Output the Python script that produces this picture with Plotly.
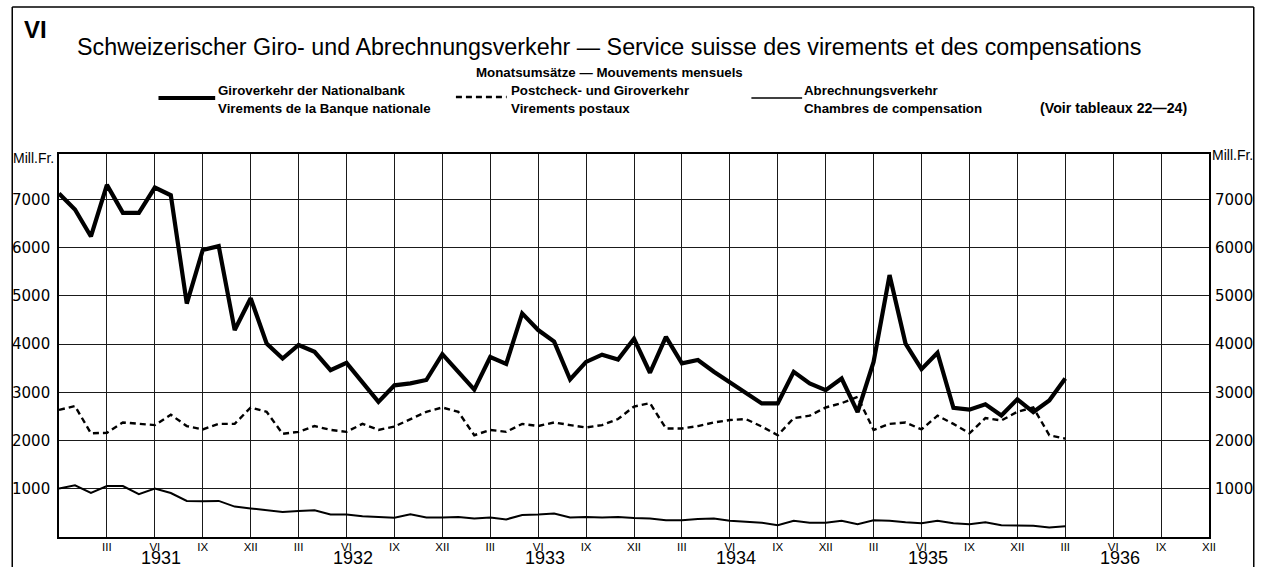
import plotly.graph_objects as go

# ---- data (months since the left edge; 0 = start, 3 = III 1931, ... 63 = III 1936) ----
months = list(range(0, 64))
giro = [7120, 6790, 6230, 7300, 6720, 6720, 7245, 7085, 4840, 5950, 6030, 4290,
        4950, 4010, 3700, 3980, 3840, 3460, 3610, 3215, 2800, 3145, 3185, 3255,
        3790, 3425, 3055, 3730, 3590, 4635, 4290, 4050, 3265, 3630, 3780, 3680,
        4110, 3405, 4150, 3600, 3670, 3425, 3215, 3000, 2770, 2770, 3425, 3185,
        3045, 3285, 2590, 3630, 5430, 4010, 3480, 3820, 2680, 2640, 2750, 2520,
        2855, 2590, 2830, 3285]
postal = [2635, 2715, 2150, 2160, 2375, 2345, 2320, 2535, 2300, 2230, 2345, 2345,
          2685, 2595, 2140, 2180, 2300, 2220, 2180, 2345, 2220, 2290, 2445, 2595,
          2685, 2595, 2110, 2220, 2180, 2345, 2300, 2375, 2320, 2270, 2320, 2445,
          2705, 2775, 2250, 2250, 2300, 2375, 2425, 2445, 2290, 2110, 2465, 2515,
          2685, 2775, 2905, 2220, 2345, 2375, 2230, 2515, 2345, 2150, 2465, 2415,
          2595, 2685, 2110, 2040]
clearing = [1005, 1072, 912, 1055, 1055, 888, 1005, 912, 748, 740, 748, 630,
            592, 555, 520, 540, 555, 468, 465, 428, 416, 400, 472, 405,
            405, 415, 385, 405, 365, 455, 465, 485, 405, 415, 405, 415,
            395, 385, 345, 345, 375, 385, 335, 315, 295, 245, 335, 295,
            295, 335, 265, 345, 335, 305, 285, 335, 285, 265, 305, 245,
            235, 235, 195, 225]

x_tick_vals = list(range(3, 73, 3))
x_tick_text = ["III", "VI", "IX", "XII"] * 6
years = ["1931", "1932", "1933", "1934", "1935", "1936"]
y_tick_vals = [1000, 2000, 3000, 4000, 5000, 6000, 7000]
y_tick_text = ["1000", "2000", "3000", "4000", "5000", "6000", "7000"]

title = "Schweizerischer Giro- und Abrechnungsverkehr — Service suisse des virements et des compensations"
subtitle = "Monatsumsätze — Mouvements mensuels"
legend_names = [("Giroverkehr der Nationalbank", "Virements de la Banque nationale"),
                ("Postcheck- und Giroverkehr", "Virements postaux"),
                ("Abrechnungsverkehr", "Chambres de compensation")]

# ---- layout geometry ----
W, H = 1265, 567
L, R, T, B = 53, 56, 154, 30
PW, PH = W - L - R, H - T - B


def px(x):
    return (x - L) / PW


def py(y):
    return (H - B - y) / PH


FONT = "Liberation Sans, Arial, sans-serif"
SMALL = dict(family=FONT, size=13.3, color="black", weight="bold")

fig = go.Figure()
fig.add_trace(go.Scatter(x=months, y=giro, mode="lines", name=legend_names[0][0],
                         line=dict(color="black", width=4.2), showlegend=False))
fig.add_trace(go.Scatter(x=months, y=postal, mode="lines", name=legend_names[1][0],
                         line=dict(color="black", width=2.4, dash="6px,4px"), showlegend=False))
fig.add_trace(go.Scatter(x=months, y=clearing, mode="lines", name=legend_names[2][0],
                         line=dict(color="black", width=2), showlegend=False))
# invisible trace to carry the right-hand axis
fig.add_trace(go.Scatter(x=months, y=clearing, mode="lines", yaxis="y2",
                         line=dict(width=0, color="rgba(0,0,0,0)"), hoverinfo="skip",
                         showlegend=False))

annotations = []
for i, yr in enumerate(years):
    annotations.append(dict(x=12 * i + 6.4, y=py(558), xref="x", yref="paper", text=yr,
                            showarrow=False, xanchor="center", yanchor="middle",
                            borderpad=0,
                            font=dict(family=FONT, size=18, color="black")))

annotations += [
    dict(x=px(16), y=py(30), text="<b>VI</b>", xanchor="left",
         font=dict(family=FONT, size=24, color="black")),
    dict(x=px(606), y=py(47), text=title, xanchor="center",
         font=dict(family=FONT, size=23.3, color="black")),
    dict(x=px(606), y=py(73), text=subtitle, xanchor="center", font=SMALL),
    dict(x=px(211), y=py(91), text=legend_names[0][0], xanchor="left", font=SMALL),
    dict(x=px(211), y=py(108), text=legend_names[0][1], xanchor="left", font=SMALL),
    dict(x=px(505), y=py(91), text=legend_names[1][0], xanchor="left", font=SMALL),
    dict(x=px(505), y=py(108), text=legend_names[1][1], xanchor="left", font=SMALL),
    dict(x=px(800), y=py(91), text=legend_names[2][0], xanchor="left", font=SMALL),
    dict(x=px(800), y=py(108), text=legend_names[2][1], xanchor="left", font=SMALL),
    dict(x=px(1037), y=py(108), text="(Voir tableaux 22—24)", xanchor="left",
         font=dict(family=FONT, size=14.2, color="black", weight="bold")),
    dict(x=px(5), y=py(158), text="Mill.Fr.", xanchor="left",
         font=dict(family=FONT, size=14, color="black")),
    dict(x=px(1210), y=py(155), text="Mill.Fr.", xanchor="left",
         font=dict(family=FONT, size=14, color="black")),
]
for a in annotations:
    a.setdefault("xref", "paper")
    a.setdefault("yref", "paper")
    a.setdefault("showarrow", False)
    a.setdefault("yanchor", "middle")

shapes = [
    # outer frame
    dict(type="line", xref="paper", yref="paper", x0=px(6), x1=px(6), y0=py(7), y1=py(580),
         line=dict(color="black", width=1.5)),
    dict(type="line", xref="paper", yref="paper", x0=px(6), x1=px(1254), y0=py(7), y1=py(7),
         line=dict(color="black", width=1.5)),
    dict(type="line", xref="paper", yref="paper", x0=px(1254), x1=px(1254), y0=py(7), y1=py(580),
         line=dict(color="black", width=1.5)),
    # legend samples
    dict(type="line", xref="paper", yref="paper", x0=px(153), x1=px(210), y0=py(98), y1=py(98),
         line=dict(color="black", width=4)),
    dict(type="line", xref="paper", yref="paper", x0=px(452), x1=px(503), y0=py(97), y1=py(97),
         line=dict(color="black", width=2.4, dash="6px,4px")),
    dict(type="line", xref="paper", yref="paper", x0=px(749), x1=px(800), y0=py(98), y1=py(98),
         line=dict(color="black", width=1.6)),
]

axis_common = dict(showline=True, linecolor="black", linewidth=1.6, mirror=True,
                   gridcolor="#1a1a1a", gridwidth=1, zeroline=False, ticks="")

fig.update_layout(
    width=W, height=H,
    margin=dict(l=L, r=R, t=T, b=B, pad=0),
    paper_bgcolor="white", plot_bgcolor="white",
    showlegend=False,
    annotations=annotations,
    shapes=shapes,
    xaxis=dict(range=[0, 72], tickvals=x_tick_vals, ticktext=x_tick_text,
               tickfont=dict(family=FONT, size=11.5, color="black"),
               showgrid=True, ticklabelstandoff=-2, **axis_common),
    yaxis=dict(range=[0, 7940], tickvals=y_tick_vals, ticktext=y_tick_text,
               tickfont=dict(family="DejaVu Sans", size=15, color="black"),
               showgrid=True, ticklabelstandoff=4, **axis_common),
    yaxis2=dict(range=[0, 7940], overlaying="y", side="right", matches="y",
                tickvals=y_tick_vals, ticktext=y_tick_text,
                tickfont=dict(family="DejaVu Sans", size=15, color="black"),
                showgrid=False, showline=False, zeroline=False, ticklabelstandoff=5),
)

fig.write_html("out.html",
               config={"displayModeBar": False},
               post_script="document.body.style.margin='0';document.body.style.overflow='hidden';")
